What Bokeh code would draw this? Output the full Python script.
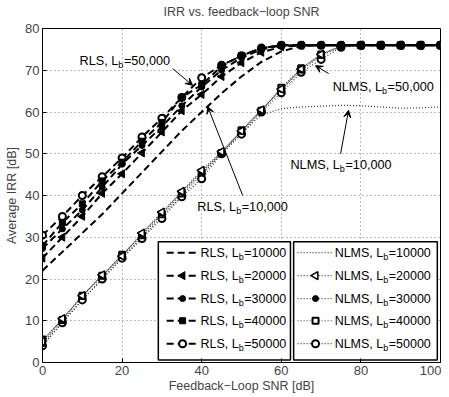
from bokeh.plotting import figure
from bokeh.models import Range1d, Label, Arrow, VeeHead, FixedTicker, Title
from bokeh.embed import file_html
from bokeh.resources import INLINE

# ---------------- data ----------------
snr = [0, 5, 10, 15, 20, 25, 30, 35, 40, 45, 50, 55, 60, 65, 70, 75, 80, 85, 90, 95, 100]

rls_10000 = [22, 26.5, 31, 35.5, 40.5, 45.5, 50.5, 55.5, 60, 64.5, 68.5, 72, 74.5, 75.8, 76, 76, 76, 76, 76, 76, 76]
rls_20000 = [25, 30, 35, 40.5, 45.2, 50.2, 55.2, 60.3, 64.2, 68.5, 71.8, 74.3, 75.6, 76, 76, 76, 76, 76, 76, 76, 76]
rls_30000 = [27.3, 32, 36.5, 42, 47.5, 52, 56.5, 61.5, 66, 70, 73, 75, 76, 76, 76, 76, 76, 76, 76, 76, 76]
rls_40000 = [28, 33.5, 38, 43.5, 48, 53, 57.5, 63.5, 66.5, 71, 73.5, 75.3, 76, 76, 76, 76, 76, 76, 76, 76, 76]
rls_50000 = [30.5, 35, 40, 44.5, 49, 54, 58.5, 63.5, 68.2, 71.2, 73.5, 75.3, 76, 76, 76, 76, 76, 76, 76, 76, 76]

nlms_10000 = [4, 9.8, 15, 20, 25, 30, 35, 40, 45, 50, 55, 59.3, 60.8, 61.2, 61.4, 61.6, 61.5, 61.2, 60.9, 61, 61.2]
nlms_20000 = [5, 10.5, 16, 21, 25.5, 31, 36, 41, 46, 50.5, 55.5, 60.5, 65.5, 70.3, 73.8, 75.8, 76, 76, 76, 76, 76]
nlms_30000 = [4.5, 10.3, 15.8, 20.7, 25.5, 30.7, 35.8, 40.8, 45.7, 50.3, 55.3, 60.5, 65.4, 70, 73.5, 75.7, 76, 76, 76, 76, 76]
nlms_40000 = [5.5, 10.2, 16, 20.8, 25.8, 30.5, 35.5, 40.5, 45.5, 50.2, 55.6, 60.3, 65.8, 70.5, 73.8, 75.8, 76, 76, 76, 76, 76]
nlms_50000 = [4, 9.5, 15, 20, 25, 29.7, 34.5, 39.7, 44, 50, 54.7, 60, 64.6, 69.5, 72.6, 75.5, 76, 76, 76, 76, 76]

x_ticks = [0, 20, 40, 60, 80, 100]
y_ticks = [0, 10, 20, 30, 40, 50, 60, 70, 80]

TITLE = "IRR vs. feedback\u2212loop SNR"
FONT = "Liberation Sans"
W = {'R': 722, 'L': 556, 'S': 667, ',': 278, ' ': 278, '=': 584, 'b': 556,
     'N': 722, 'M': 833}
for d in "0123456789":
    W[d] = 556


def tw(s, fs):
    return sum(W.get(c, 556) for c in s) / 1000.0 * fs


p = figure(width=441, height=395, x_range=Range1d(0, 100), y_range=Range1d(0, 80),
           output_backend="svg", toolbar_location=None,
           min_border_left=42, min_border_right=1, min_border_top=28, min_border_bottom=33)

p.title.text = TITLE
p.title.align = "center"
p.title.text_font = FONT
p.title.text_font_style = "normal"
p.title.text_font_size = "12.5px"
p.title.standoff = 4
# small empty spacer above the title to push it toward the frame
p.add_layout(Title(text=" ", text_font_size="5px", standoff=0), "above")

p.outline_line_color = "black"
p.outline_line_width = 1
p.outline_line_alpha = 1

for ax in (p.xaxis[0], p.yaxis[0]):
    ax.major_label_text_font = FONT
    ax.major_label_text_font_size = "13px"
    ax.axis_label_text_font = FONT
    ax.axis_label_text_font_size = "12.5px"
    ax.axis_label_text_font_style = "normal"
    ax.major_tick_in = 4
    ax.major_tick_out = 0
    ax.minor_tick_in = 0
    ax.minor_tick_out = 0
    ax.axis_line_color = "black"
    ax.major_label_standoff = 3
    ax.axis_label_standoff = 3

p.xaxis.ticker = FixedTicker(ticks=x_ticks)
p.yaxis.ticker = FixedTicker(ticks=y_ticks)
p.xaxis.axis_label = "Feedback\u2212Loop SNR [dB]"
p.yaxis.axis_label = "Average IRR [dB]"
p.xaxis.major_label_standoff = 3
p.xaxis.axis_label_standoff = 1

p.xgrid.ticker = FixedTicker(ticks=x_ticks)
p.ygrid.ticker = FixedTicker(ticks=y_ticks)
for g in (p.xgrid[0], p.ygrid[0]):
    g.grid_line_color = "#7a7a7a"
    g.grid_line_dash = "1 3"
    g.grid_line_width = 1

# ---------------- NLMS curves ----------------
NL_COL = "#3a3a3a"
NL_DASH = "1 2"
for ys in (nlms_10000, nlms_20000, nlms_30000, nlms_40000, nlms_50000):
    p.line(snr, ys, line_color=NL_COL, line_dash=NL_DASH, line_width=1.2)

p.scatter(snr, nlms_50000, marker="circle", size=7, fill_color="white", line_color="black", line_width=2)
p.scatter(snr, nlms_40000, marker="square", size=6, fill_color="white", line_color="black", line_width=2)
p.scatter(snr, nlms_30000, marker="circle", size=6, fill_color="black", line_color="black")
p.scatter(snr, nlms_20000, marker="triangle", angle=1.5708, size=8, fill_color="white", line_color="black", line_width=1.5)

# ---------------- RLS curves ----------------
RL_DASH = "7 4"
for ys in (rls_10000, rls_20000, rls_30000, rls_40000, rls_50000):
    p.line(snr, ys, line_color="black", line_dash=RL_DASH, line_width=2)

p.scatter(snr, rls_50000, marker="circle", size=7, fill_color="white", line_color="black", line_width=2)
p.scatter(snr, rls_40000, marker="square", size=6, fill_color="black", line_color="black")
p.scatter(snr, rls_30000, marker="circle", size=6, fill_color="black", line_color="black")
p.scatter(snr, rls_20000, marker="triangle", angle=1.5708, size=8, fill_color="black", line_color="black")

# ---------------- annotations ----------------
def sub_text(x, y, head, tail, fs, baseline="alphabetic"):
    p.add_layout(Label(x=x, y=y, text=head, text_font=FONT, text_font_size=f"{fs}px",
                       text_baseline=baseline, text_align="left", text_color="black"))
    off = tw(head, fs)
    bfs = round(fs * 0.72, 1)
    p.add_layout(Label(x=x, y=y, x_offset=off, y_offset=-4, text="b", text_font=FONT,
                       text_font_size=f"{bfs}px", text_baseline=baseline, text_align="left",
                       text_color="black"))
    off2 = off + tw("b", bfs) + 0.5
    p.add_layout(Label(x=x, y=y, x_offset=off2, text=tail, text_font=FONT,
                       text_font_size=f"{fs}px", text_baseline=baseline, text_align="left",
                       text_color="black"))


sub_text(9.3, 72.1, "RLS, L", "=50,000", 12.7)
sub_text(38.9, 37.3, "RLS, L", "=10,000", 12.7)
sub_text(72.9, 65.9, "NLMS, L", "=50,000", 12.7)
sub_text(62.3, 47.2, "NLMS, L", "=10,000", 12.7)

for (xs, ys, xe, ye) in [(32.7, 70.4, 37.7, 66.4), (50.3, 40.0, 41.5, 61.3),
                         (71.9, 69.2, 68.6, 71.1), (74.9, 50.0, 76.9, 60.4)]:
    p.add_layout(Arrow(end=VeeHead(size=7, fill_color="black", line_color="black", line_width=1),
                       x_start=xs, y_start=ys, x_end=xe, y_end=ye,
                       line_color="black", line_width=1))

# ---------------- legend (two boxes) ----------------
row_y = [26.3, 20.8, 15.3, 10.0, 4.5]
p.quad(left=[29.1, 63.1], right=[62.3, 99.2], bottom=[0.6, 0.6], top=[28.9, 28.9],
       fill_color="white", line_color="black", line_width=1.5)

rls_labels = ["=10000", "=20000", "=30000", "=40000", "=50000"]
nlms_labels = ["=10000", "=20000", "=30000", "=40000", "=50000"]

for i, y in enumerate(row_y):
    p.line([31.2, 39.2], [y, y], line_color="black", line_dash=RL_DASH, line_width=2)
    p.line([64.1, 73.1], [y, y], line_color=NL_COL, line_dash=NL_DASH, line_width=1.2)
    sub_text(39.7, y, "RLS, L", rls_labels[i], 12.5, baseline="middle")
    sub_text(73.4, y, "NLMS, L", nlms_labels[i], 12.5, baseline="middle")

# legend markers
p.scatter([35.2], [row_y[1]], marker="triangle", angle=1.5708, size=8, fill_color="black", line_color="black")
p.scatter([35.2], [row_y[2]], marker="circle", size=6, fill_color="black", line_color="black")
p.scatter([35.2], [row_y[3]], marker="square", size=6, fill_color="black", line_color="black")
p.scatter([35.2], [row_y[4]], marker="circle", size=7, fill_color="white", line_color="black", line_width=2)
p.scatter([68.6], [row_y[1]], marker="triangle", angle=1.5708, size=8, fill_color="white", line_color="black", line_width=1.5)
p.scatter([68.6], [row_y[2]], marker="circle", size=6, fill_color="black", line_color="black")
p.scatter([68.6], [row_y[3]], marker="square", size=6, fill_color="white", line_color="black", line_width=2)
p.scatter([68.6], [row_y[4]], marker="circle", size=7, fill_color="white", line_color="black", line_width=2)

open("out.html", "w").write(file_html(p, INLINE))
